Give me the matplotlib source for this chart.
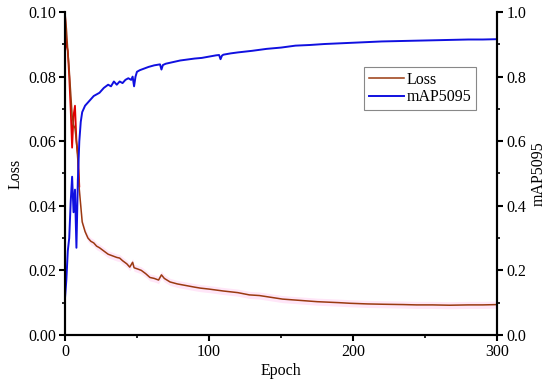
import numpy as np
import matplotlib.pyplot as plt
from matplotlib.ticker import MultipleLocator

plt.rcParams['font.family'] = ['Liberation Serif', 'DejaVu Serif']
plt.rcParams['font.size'] = 11.5

# mAP5095 (right axis)
map_epoch = [0, 1, 2, 3, 4, 5, 6, 7, 8, 9, 10, 11, 12, 14, 16, 18, 20, 22, 24, 27,
             30, 32, 34, 36, 38, 40, 42, 44, 46, 47, 48, 49, 50, 52, 55, 58, 62, 66,
             67, 68, 70, 75, 80, 85, 90, 95, 100, 105, 107, 108, 109, 110, 115, 120,
             130, 140, 150, 160, 170, 180, 190, 200, 210, 220, 230, 240, 250, 260,
             270, 280, 290, 300]
map_vals = [0.11, 0.17, 0.26, 0.30, 0.41, 0.49, 0.38, 0.45, 0.27, 0.48, 0.60, 0.66, 0.69,
            0.71, 0.72, 0.73, 0.74, 0.745, 0.75, 0.765, 0.775, 0.77, 0.785, 0.775, 0.785,
            0.78, 0.79, 0.795, 0.79, 0.80, 0.77, 0.80, 0.815, 0.82, 0.825, 0.83, 0.835,
            0.838, 0.822, 0.836, 0.84, 0.845, 0.85, 0.853, 0.856, 0.858, 0.862, 0.866,
            0.867, 0.854, 0.865, 0.868, 0.872, 0.875, 0.88, 0.886, 0.89, 0.896, 0.898,
            0.901, 0.903, 0.905, 0.907, 0.909, 0.91, 0.911, 0.912, 0.913, 0.914, 0.915,
            0.915, 0.916]

# Loss, noisy start (red) and full curve (brown)
raw_epoch = [0, 1, 2, 3, 4, 5, 6, 7, 8, 9, 10]
raw_loss = [0.100, 0.090, 0.088, 0.080, 0.070, 0.058, 0.068, 0.071, 0.060, 0.056, 0.046]

loss_epoch = [0, 1, 2, 3, 4, 5, 6, 7, 8, 9, 10, 11, 12, 14, 16, 18, 20, 22, 24, 27,
              30, 33, 36, 38, 40, 43, 45, 47, 48, 50, 53, 56, 59, 62, 65, 67, 69, 73,
              78, 84, 90, 94, 100, 110, 120, 128, 135, 151, 160, 175, 190, 198, 210,
              221, 235, 244, 255, 267, 280, 290, 300]
loss_vals = [0.100, 0.095, 0.088, 0.082, 0.075, 0.068, 0.065, 0.064, 0.060, 0.054, 0.045,
             0.040, 0.035, 0.032, 0.030, 0.029, 0.0285, 0.0275, 0.027, 0.026, 0.025,
             0.0245, 0.024, 0.0238, 0.023, 0.022, 0.021, 0.0225, 0.0208, 0.0205, 0.020,
             0.019, 0.0178, 0.0175, 0.017, 0.0186, 0.0175, 0.0164, 0.0158, 0.0153,
             0.0148, 0.0145, 0.0142, 0.0136, 0.0131, 0.0124, 0.0122, 0.0111, 0.0108,
             0.0103, 0.0100, 0.0098, 0.0096, 0.0095, 0.0094, 0.0093, 0.0093, 0.0092,
             0.0093, 0.0093, 0.0094]

fig = plt.figure(figsize=(5.5, 3.89), dpi=100)
ax = fig.add_axes([0.118, 0.139, 0.786, 0.830])
ax2 = ax.twinx()

lo = np.array(loss_vals)
ax.fill_between(loss_epoch, lo - 0.0011, lo + 0.0011, color='#ffe6f8', lw=0)
ax.plot(raw_epoch, raw_loss, color='#e00000', lw=1.3)
l1, = ax.plot(loss_epoch, loss_vals, color='#9a3a10', lw=1.1, label='Loss')
l2, = ax2.plot(map_epoch, map_vals, color='#1010e0', lw=1.4, label='mAP5095')

ax.set_xlim(0, 300)
ax.set_ylim(0, 0.10)
ax2.set_ylim(0, 1.0)
ax.xaxis.set_major_locator(MultipleLocator(100))
ax.xaxis.set_minor_locator(MultipleLocator(50))
ax.yaxis.set_major_locator(MultipleLocator(0.02))
ax.yaxis.set_minor_locator(MultipleLocator(0.01))
ax2.yaxis.set_major_locator(MultipleLocator(0.2))
ax2.yaxis.set_minor_locator(MultipleLocator(0.1))
ax.yaxis.set_major_formatter(plt.FormatStrFormatter('%.2f'))
ax2.yaxis.set_major_formatter(plt.FormatStrFormatter('%.1f'))

for a in (ax, ax2):
    a.spines['top'].set_visible(False)
    for s in a.spines.values():
        s.set_linewidth(1.5)
    a.tick_params(which='major', direction='out', length=4, width=1.5, pad=2.5)
    a.tick_params(which='minor', direction='out', length=2.5, width=1.2)

ax.set_xlabel('Epoch', labelpad=2)
ax.set_ylabel('Loss', labelpad=3)
ax2.set_ylabel('mAP5095', labelpad=3)

leg = ax.legend(handles=[l1, l2], loc='upper right', bbox_to_anchor=(0.963, 0.845),
                fancybox=False, edgecolor='#888888', framealpha=1,
                handlelength=2.2, handletextpad=0.2, borderpad=0.3, labelspacing=0.1,
                borderaxespad=0.3)
leg.get_frame().set_linewidth(0.8)

fig.savefig('out.png', dpi=100)
